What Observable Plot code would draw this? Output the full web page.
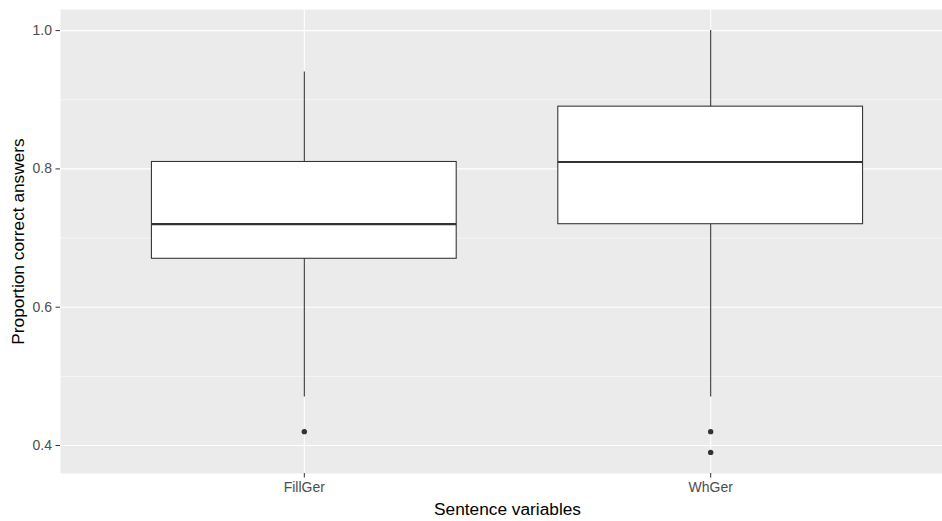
<!DOCTYPE html>
<html>
<head>
<meta charset="utf-8">
<script src="https://cdn.jsdelivr.net/npm/d3@7"></script>
<script src="https://cdn.jsdelivr.net/npm/@observablehq/plot@0.6"></script>
<style>
  html, body { margin: 0; padding: 0; background: #fff; overflow: hidden; }
  #chart { width: 942px; height: 521px; overflow: hidden; }
  #chart svg { max-width: none !important; width: 954px !important; height: 521px !important; font-family: "Liberation Sans", Arial, sans-serif; }
</style>
</head>
<body>
<div id="chart"></div>
<script>
// Data
const categories = ["FillGer", "WhGer"];
const lowerWhisker = [0.47, 0.47];
const q1 = [0.67, 0.72];
const median = [0.72, 0.81];
const q3 = [0.81, 0.89];
const upperWhisker = [0.94, 1.0];
const outlierCategory = ["FillGer", "WhGer", "WhGer"];
const outlierValue = [0.42, 0.42, 0.39];
const yTicks = [0.4, 0.6, 0.8, 1.0];
const yMinorTicks = [0.5, 0.7, 0.9];

const boxes = categories.map((c, i) => ({
  cat: c, pos: i + 1,
  lo: lowerWhisker[i], q1: q1[i], med: median[i], q3: q3[i], hi: upperWhisker[i]
}));
const outliers = outlierCategory.map((c, i) => ({ pos: categories.indexOf(c) + 1, v: outlierValue[i] }));
const halfWidth = 0.375;

const dataMin = Math.min(...lowerWhisker, ...outlierValue);
const dataMax = Math.max(...upperWhisker);
const pad = (dataMax - dataMin) * 0.05;

const plot = Plot.plot({
  width: 954,
  height: 521,
  marginLeft: 60,
  marginRight: 0,
  marginTop: 9,
  marginBottom: 48,
  style: { fontFamily: "'Liberation Sans', Arial, sans-serif", background: "#fff" },
  x: { type: "linear", domain: [0.4, categories.length + 0.6] },
  y: { domain: [dataMin - pad, dataMax + pad] },
  marks: [
    Plot.frame({ fill: "#EBEBEB", stroke: null }),
    Plot.gridY(yMinorTicks, { stroke: "#fff", strokeOpacity: 1, strokeWidth: 0.55 }),
    Plot.gridY(yTicks, { stroke: "#fff", strokeOpacity: 1, strokeWidth: 1.1 }),
    Plot.gridX(categories.map((c, i) => i + 1), { stroke: "#fff", strokeOpacity: 1, strokeWidth: 1.1 }),
    Plot.ruleX(boxes, { x: "pos", y1: "lo", y2: "hi", stroke: "#333333", strokeWidth: 1.07 }),
    Plot.rect(boxes, {
      x1: d => d.pos - halfWidth, x2: d => d.pos + halfWidth,
      y1: "q1", y2: "q3", fill: "#fff", stroke: "#333333", strokeWidth: 1.07
    }),
    Plot.ruleY(boxes, {
      x1: d => d.pos - halfWidth, x2: d => d.pos + halfWidth,
      y: "med", stroke: "#333333", strokeWidth: 2.2
    }),
    Plot.dot(outliers, { x: "pos", y: "v", r: 2.7, fill: "#333333", stroke: null }),
    Plot.axisY(yTicks, {
      tickFormat: d3.format(".1f"), tickSize: 4.5, tickPadding: 4,
      fontSize: 14, stroke: "#333333", fill: "#4D4D4D", label: null
    }),
    Plot.axisX(categories.map((c, i) => i + 1), {
      tickFormat: d => categories[d - 1], tickSize: 4.5, tickPadding: 4,
      fontSize: 14, stroke: "#333333", fill: "#4D4D4D", label: null
    }),
    Plot.text(["Sentence variables"], {
      frameAnchor: "bottom", dy: 41, fontSize: 17.3, fill: "#000"
    }),
    Plot.text(["Proportion correct answers"], {
      frameAnchor: "left", textAnchor: "middle", rotate: -90, dx: -42, fontSize: 17.3, fill: "#000"
    })
  ]
});
document.getElementById("chart").appendChild(plot);
</script>
</body>
</html>
